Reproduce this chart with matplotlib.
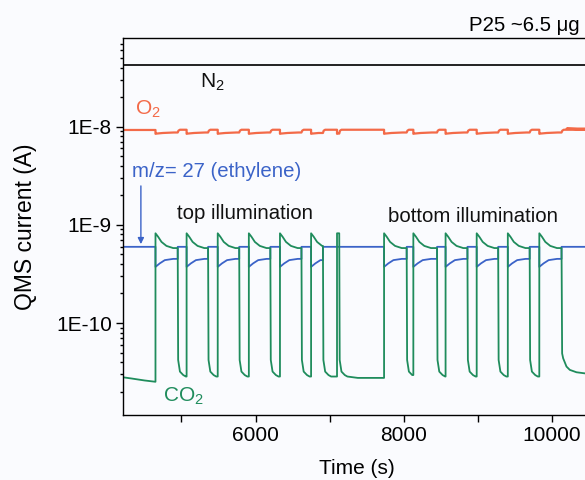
import numpy as np
import matplotlib.pyplot as plt
from matplotlib.ticker import FixedLocator, FuncFormatter, NullFormatter

plt.rcParams['font.family'] = ['Liberation Sans', 'DejaVu Sans']
plt.rcParams['mathtext.fontset'] = 'custom'
plt.rcParams['mathtext.rm'] = 'Liberation Sans'
plt.rcParams['mathtext.it'] = 'Liberation Sans:italic'

# lamp switching times (s): top illumination, then bottom illumination
light_on = [4650, 5070, 5490, 5910, 6330, 6750, 7100,
            7735, 8130, 8565, 8985, 9405, 9830]
light_off = [4950, 5360, 5780, 6200, 6620, 6910, 7130,
             8040, 8450, 8860, 9275, 9700, 10130]
t_start, t_end = 4212, 10528

x_major = [6000, 8000, 10000]
x_minor = [5000, 7000, 9000]
y_major = [1e-10, 1e-9, 1e-8]

# N2 background
n2_t = [t_start, t_end]
n2_v = [4.25e-8, 4.25e-8]

# O2 (A)
o2_pre = 9.25e-9
o2_on_dt = [0, 15, 100, 250]
o2_on_v = [8.45e-9, 8.5e-9, 8.62e-9, 8.72e-9]
o2_off_dt = [10, 30]
o2_off_v = [9.1e-9, 9.3e-9]
o2_end = 9.55e-9

# m/z 27 (ethylene)
eth_base = 5.97e-10
eth_on_dt = [0, 58, 126, 240]
eth_on_v = [3.73e-10, 4.05e-10, 4.37e-10, 4.50e-10]

# CO2
co2_pre_t = [4212, 4330, 4500, 4650]
co2_pre_v = [2.80e-11, 2.72e-11, 2.60e-11, 2.52e-11]
co2_on_dt = [0, 36, 81, 148, 238]
co2_on_v = [8.2e-10, 7.55e-10, 6.7e-10, 6.1e-10, 5.8e-10]
co2_off_dt = [6, 30, 75, 110, 250]
co2_off_v = [4.2e-11, 3.2e-11, 2.95e-11, 2.85e-11, 2.76e-11]
co2_tail_dt = [8, 22, 67, 112, 202, 315]
co2_tail_v = [4.9e-11, 4.37e-11, 3.6e-11, 3.33e-11, 3.15e-11, 3.07e-11]


def pulse_train(t, v, on_dt, on_v, off_dt, off_v, tail_dt=None, tail_v=None):
    for k, (a, b) in enumerate(zip(light_on, light_off)):
        nxt = light_on[k + 1] if k + 1 < len(light_on) else t_end
        t.append(a)
        v.append(v[-1])
        for dt, val in zip(on_dt, on_v):
            if a + dt < b:
                t.append(a + dt)
                v.append(val)
        t.append(b)
        v.append(v[-1])
        last = k + 1 == len(light_on)
        dts, vals = (tail_dt, tail_v) if last and tail_dt else (off_dt, off_v)
        for dt, val in zip(dts, vals):
            if b + dt < nxt:
                t.append(b + dt)
                v.append(val)
        t.append(nxt)
        v.append(v[-1])
    return t, v


co2_t, co2_v = pulse_train(list(co2_pre_t), list(co2_pre_v), co2_on_dt, co2_on_v,
                           co2_off_dt, co2_off_v, co2_tail_dt, co2_tail_v)
o2_t, o2_v = pulse_train([t_start], [o2_pre], o2_on_dt, o2_on_v,
                         o2_off_dt, o2_off_v)
o2_t += [10200, t_end]
o2_v += [o2_end, o2_end]

# the short flash at ~7100 s leaves no trace in the m/z 27 signal
eth_t, eth_v = [t_start], [eth_base]
for a, b in zip(light_on, light_off):
    if b - a < 60:
        continue
    eth_t.append(a)
    eth_v.append(eth_base)
    for dt, val in zip(eth_on_dt, eth_on_v):
        if a + dt < b:
            eth_t.append(a + dt)
            eth_v.append(val)
    eth_t += [b, b]
    eth_v += [eth_v[-1], eth_base]
eth_t.append(t_end)
eth_v.append(eth_base)

c_n2 = '#111111'
c_o2 = '#f36a48'
c_eth = '#3b63c8'
c_co2 = '#1f8c5c'

fig = plt.figure(figsize=(5.85, 4.8), dpi=100)
fig.patch.set_facecolor('#fafbfe')
ax = fig.add_axes([0.2103, 0.1354, 0.80, 0.7848])
ax.set_facecolor('#fafbfe')

ax.plot(n2_t, n2_v, color=c_n2, lw=1.3)
ax.plot(o2_t, o2_v, color=c_o2, lw=1.6)
ax.plot(eth_t, eth_v, color=c_eth, lw=1.3)
ax.plot(co2_t, co2_v, color=c_co2, lw=1.3)

ax.set_yscale('log')
ax.set_xlim(t_start, t_end)
ax.set_ylim(1.156e-11, 7.94e-8)

# log minor ticks between 2 and 9 of every decade in view
y_minor = [m * 10.0 ** e for e in range(-11, -7) for m in range(2, 10)]
y_minor = [y for y in y_minor if 1.156e-11 < y < 7.94e-8]

ax.xaxis.set_major_locator(FixedLocator(x_major))
ax.xaxis.set_minor_locator(FixedLocator(x_minor))
ax.yaxis.set_major_locator(FixedLocator(y_major))
ax.yaxis.set_minor_locator(FixedLocator(y_minor))
ax.xaxis.set_minor_formatter(NullFormatter())
ax.yaxis.set_minor_formatter(NullFormatter())
ax.xaxis.set_major_formatter(FuncFormatter(lambda x, _: f'{x:.0f}'))
ax.yaxis.set_major_formatter(FuncFormatter(lambda y, _: f'1E{int(round(np.log10(y)))}'))

ax.tick_params(which='both', direction='out', top=False, right=False,
               labelsize=15, width=1.0)
ax.tick_params(which='major', length=5, pad=3)
ax.tick_params(axis='y', which='minor', length=2.5)
ax.tick_params(axis='x', which='minor', length=5)
for side in ['left', 'bottom', 'top']:
    ax.spines[side].set_linewidth(1.0)
ax.spines['right'].set_visible(False)

ax.set_xlabel('Time (s)', fontsize=15, labelpad=10)
ax.set_ylabel('QMS current (A)', fontsize=16.5, labelpad=14)

ax.text(5250, 2.48e-8, r'N$_{\rm 2}$', color=c_n2, fontsize=15)
ax.text(4372, 1.32e-8, r'O$_{\rm 2}$', color=c_o2, fontsize=15)
ax.text(4327, 3.1e-9, 'm/z= 27 (ethylene)', color=c_eth, fontsize=14.7)
ax.text(4935, 1.16e-9, 'top illumination', color='#111111', fontsize=14.7)
ax.text(7791, 1.07e-9, 'bottom illumination', color='#111111', fontsize=14.7)
ax.text(4754, 1.58e-11, r'CO$_{\rm 2}$', color=c_co2, fontsize=15)
ax.annotate('', xy=(4453, 6.36e-10), xytext=(4453, 2.49e-9),
            arrowprops=dict(arrowstyle='-|>', color=c_eth, lw=1.0,
                            mutation_scale=9, shrinkA=0, shrinkB=0))

fig.text(0.9915, 0.936, 'P25 ~6.5 \u03bcg', ha='right', va='baseline', fontsize=14.7)

fig.savefig('out.png', dpi=100, facecolor=fig.get_facecolor())
